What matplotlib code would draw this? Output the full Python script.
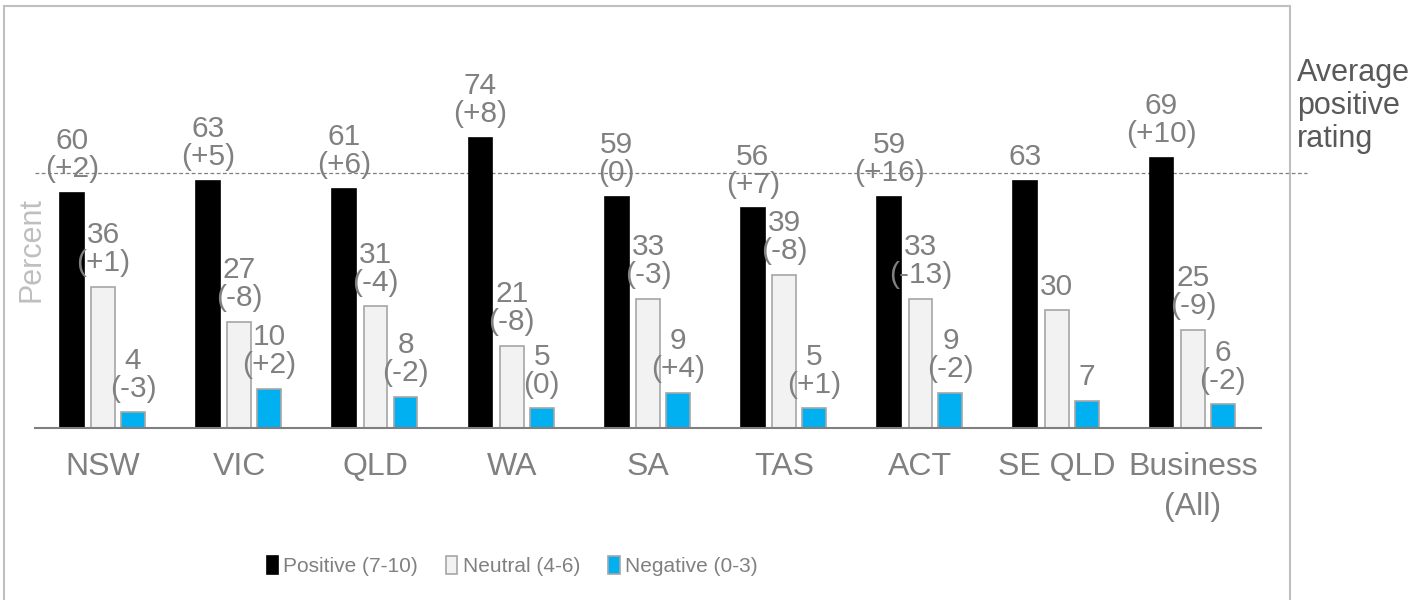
import matplotlib
matplotlib.use("Agg")
import matplotlib.pyplot as plt
from matplotlib.patches import Rectangle, Patch
import numpy as np

# ---- data ----
regions = ["NSW", "VIC", "QLD", "WA", "SA", "TAS", "ACT", "SE QLD", "Business\n(All)"]
positive = [60, 63, 61, 74, 59, 56, 59, 63, 69]
positive_change = ["+2", "+5", "+6", "+8", "0", "+7", "+16", None, "+10"]
neutral = [36, 27, 31, 21, 33, 39, 33, 30, 25]
neutral_change = ["+1", "-8", "-4", "-8", "-3", "-8", "-13", None, "-9"]
negative = [4, 10, 8, 5, 9, 5, 9, 7, 6]
negative_change = ["-3", "+2", "-2", "0", "+4", "+1", "-2", None, "-2"]
series_names = ["Positive (7-10)", "Neutral (4-6)", "Negative (0-3)"]
average_positive = 65

# ---- style ----
plt.rcParams["font.family"] = ["Liberation Sans", "DejaVu Sans"]

LABEL_GREY = "#808080"
DARK_GREY = "#595959"
EDGE_GREY = "#A6A6A6"
colors = ["#000000", "#F2F2F2", "#00B0F0"]
edges = ["#000000", EDGE_GREY, EDGE_GREY]

W, H = 1418, 600
fig = plt.figure(figsize=(W / 100, H / 100), dpi=100)

# plot area in pixel units
ax_left, ax_right, ax_base, ax_top = 35, 1261, 428, 36
ax = fig.add_axes([ax_left / W, 1 - ax_base / H,
                   (ax_right - ax_left) / W, (ax_base - ax_top) / H])

x = np.arange(len(regions))
offsets = [-0.23, 0.0, 0.22]
width = 0.175
values = [positive, neutral, negative]
changes = [positive_change, neutral_change, negative_change]

for vals, chg, off, fc, ec, name in zip(values, changes, offsets, colors, edges, series_names):
    bars = ax.bar(x + off, vals, width=width, color=fc, edgecolor=ec,
                  linewidth=1.2, label=name, zorder=3)
    for b, v, c in zip(bars, vals, chg):
        txt = f"{v}" if c is None else f"{v}\n({c})"
        ax.annotate(txt, (b.get_x() + b.get_width() / 2, v),
                    xytext=(0, 7), textcoords="offset points",
                    ha="center", va="bottom", fontsize=21.5,
                    color=LABEL_GREY, linespacing=1.0, zorder=4)

ax.set_xlim(-0.5, len(regions) - 0.5)
ax.set_ylim(0, 100)
ax.set_xticks(x)
ax.set_xticklabels(regions, fontsize=23, color=LABEL_GREY, linespacing=1.45)
ax.tick_params(axis="x", length=0, pad=17)
ax.set_yticks([])
for s in ["top", "right", "left"]:
    ax.spines[s].set_visible(False)
ax.spines["bottom"].set_color("#7F7F7F")
ax.spines["bottom"].set_linewidth(1.5)
ax.spines["bottom"].set_zorder(5)

ax.set_ylabel("Percent", fontsize=22, color="#BFBFBF", labelpad=2)
ax.yaxis.set_label_coords((46 - ax_left) / (ax_right - ax_left), (428 - 250) / 392)

# average positive rating reference line
ax.axhline(average_positive, xmin=0, xmax=(1307 - ax_left) / (ax_right - ax_left),
           color="#7F7F7F", linewidth=0.9, linestyle=(0, (3, 2)),
           clip_on=False, zorder=2)
fig.text(1297 / W, 1 - 58 / H, "Average\npositive\nrating", ha="left", va="top",
         fontsize=22, color=DARK_GREY, linespacing=1.12)

# legend
handles = [Patch(facecolor=fc, edgecolor=ec, linewidth=1.2) for fc, ec in zip(colors, edges)]
leg = fig.legend(handles, series_names, loc="center", bbox_to_anchor=(512 / W, 1 - 566 / H),
                 ncol=3, frameon=False, handlelength=0.55, handleheight=1.0,
                 handletextpad=0.25, columnspacing=1.35, borderaxespad=0,
                 prop={"size": 15})
for t in leg.get_texts():
    t.set_color(LABEL_GREY)

# chart border
fig.patches.append(Rectangle((4 / W, -0.05), (1290 - 4) / W, 1.05 - 6 / H,
                             transform=fig.transFigure, fill=False,
                             edgecolor="#BFBFBF", linewidth=1.5))

fig.savefig("out.png", dpi=100)
